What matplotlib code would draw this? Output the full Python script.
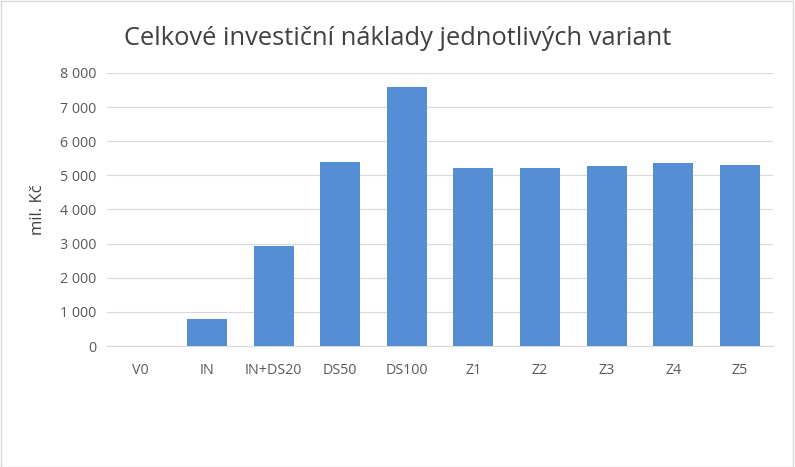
import matplotlib
matplotlib.use("Agg")
import matplotlib.pyplot as plt
from matplotlib.ticker import FuncFormatter

categories = ["V0", "IN", "IN+DS20", "DS50", "DS100", "Z1", "Z2", "Z3", "Z4", "Z5"]
values = [0, 790, 2920, 5400, 7600, 5220, 5220, 5280, 5370, 5290]
title = "Celkové investiční náklady jednotlivých variant"
ylabel = "mil. Kč"

plt.rcParams['font.family'] = ['Open Sans', 'DejaVu Sans']
fig = plt.figure(figsize=(7.95, 4.67), dpi=100)
ax = fig.add_axes([0.1346, 0.259, 0.838, 0.585])
ax.bar(range(len(categories)), values, width=0.6, color="#558ED5", zorder=3)
ax.set_xlim(-0.5, len(categories) - 0.5)
ax.set_ylim(0, 8000)
ax.set_yticks(range(0, 8001, 1000))
ax.yaxis.set_major_formatter(FuncFormatter(lambda v, p: f"{int(v):,}".replace(",", " ")))
ax.set_xticks(range(len(categories)))
ax.set_xticklabels(categories)
ax.grid(axis="y", color="#D9D9D9", linewidth=0.8, zorder=0)
for s in ["top", "right", "left"]:
    ax.spines[s].set_visible(False)
ax.spines["bottom"].set_color("#D9D9D9")
ax.tick_params(length=0, labelsize=10.3, colors="#595959", pad=12)
ax.tick_params(axis="y", pad=8)
ax.set_ylabel(ylabel, fontsize=12, color="#404040", labelpad=10)
fig.text(0.5, 0.918, title, ha="center", va="center", fontsize=18.4, color="#404040")
fig.patches.append(plt.Rectangle((0.001, 0.001), 0.997, 0.997, transform=fig.transFigure,
                                 fill=False, edgecolor="#D9D9D9", linewidth=1))
fig.savefig("out.png", dpi=100)
